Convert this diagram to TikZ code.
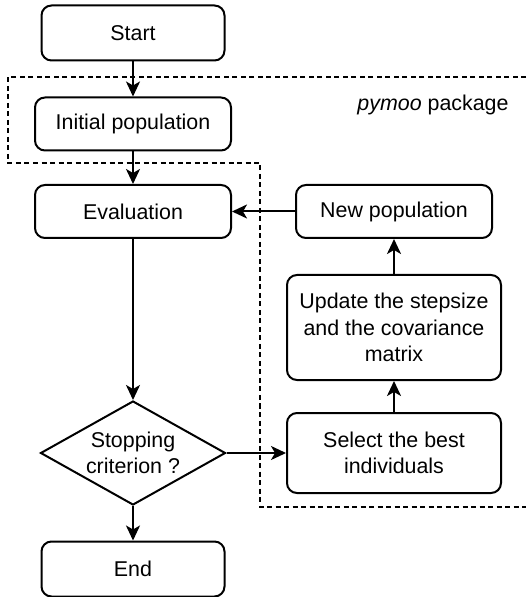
\documentclass[tikz,border=0pt]{standalone}
\usepackage{fontspec}
\setmainfont{Liberation Sans}
\usepackage{tikz}
\usetikzlibrary{shapes.geometric}
\usetikzlibrary{arrows.meta}

\begin{document}
\begin{tikzpicture}[
		x=0.5pt, y=-0.5pt,
		box/.style={rectangle, draw, line width=1pt, rounded corners=5pt, align=center, inner sep=2pt},
		term/.style={box, minimum width=91.5pt, minimum height=27.5pt},
		stage/.style={box, minimum width=98pt, minimum height=26.5pt},
		side/.style={box, minimum width=107pt},
		test/.style={diamond, draw, line width=1pt, aspect=1.8, minimum width=92.5pt, minimum height=52pt, inner sep=-1pt, align=center},
		region/.style={draw, line width=1pt, dash pattern=on 2.5pt off 1.75pt},
		every node/.style={font=\fontsize{10.7}{13.2}\selectfont},
		>={Stealth[length=7.5pt, width=7pt, inset=2pt]}
		]
		\useasboundingbox (0,0) rectangle (526,597);
		\draw[region] (526,77) -- (8,77) -- (8,163) -- (260,163) -- (260,507) -- (526,507);
		\node (pkg) at (433,105) {\textit{pymoo} package};
		
		\node[term] (start) at (133,33) {Start};
		\node[stage] (init) at (133,124) {Initial population};
		\node[stage] (eval) at (133,211.5) {Evaluation};
		\node[test] (stop) at (133,453) {Stopping\\criterion ?};
		\node[term] (end) at (133,569) {End};
		
		\node[stage] (newpop) at (394,211.5) {New population};
		\node[side, minimum height=52.5pt] (update) at (394,327.5) {Update the stepsize\\and the covariance\\matrix};
		\node[side, minimum height=40pt] (select) at (394,453) {Select the best\\individuals};
		
		\draw[->, line width=1pt] (start.south) to (init.north);
		\draw[->, line width=1pt] (init.south) to (eval.north);
		\draw[->, line width=1pt] (eval.south) to (stop.north);
		\draw[->, line width=1pt] (stop.south) to (end.north);
		\draw[->, line width=1pt] (stop.east) to (select.west);
		\draw[->, line width=1pt] (select.north) to (update.south);
		\draw[->, line width=1pt] (update.north) to (newpop.south);
		\draw[->, line width=1pt] (newpop.west) to (eval.east);
		\end{tikzpicture}
\end{document}
